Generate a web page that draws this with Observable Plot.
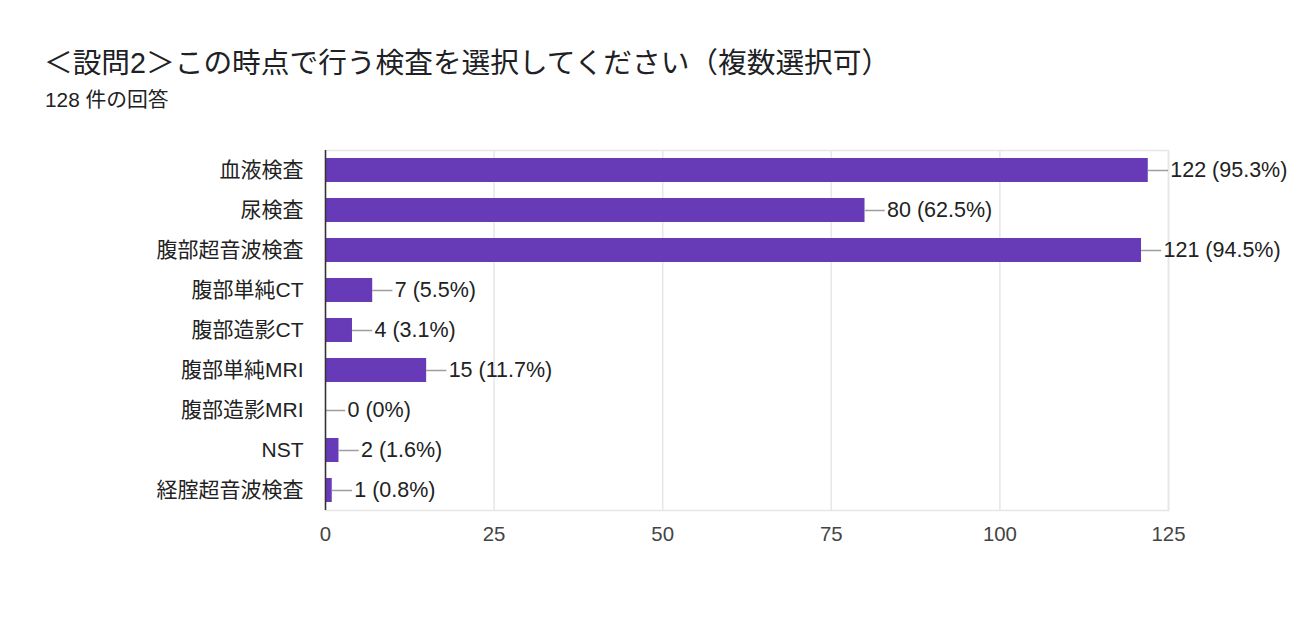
<!DOCTYPE html>
<html>
<head>
<meta charset="utf-8">
<script src="https://cdn.jsdelivr.net/npm/d3@7"></script>
<script src="https://cdn.jsdelivr.net/npm/@observablehq/plot@0.6"></script>
<style>
  html, body { margin: 0; padding: 0; background: #fff; }
  #wrap { position: relative; width: 1299px; height: 617px; overflow: hidden; font-family: "Liberation Sans", Arial, "Noto Sans CJK JP", sans-serif; }
  #title { position: absolute; left: 44px; top: 45px; font-size: 28.7px; line-height: 36px; color: #202124; white-space: nowrap; }
  #subtitle { position: absolute; left: 45px; top: 88px; font-size: 20.8px; line-height: 24px; color: #202124; white-space: nowrap; }
  #chart { position: absolute; left: 0; top: 0; }
</style>
</head>
<body>
<div id="wrap">
  <div id="chart"></div>
  <div id="title">＜設問2＞この時点で行う検査を選択してください（複数選択可）</div>
  <div id="subtitle">128 件の回答</div>
</div>
<script>
const categories = ["血液検査", "尿検査", "腹部超音波検査", "腹部単純CT", "腹部造影CT", "腹部単純MRI", "腹部造影MRI", "NST", "経腟超音波検査"];
const counts = [122, 80, 121, 7, 4, 15, 0, 2, 1];
const percents = ["95.3", "62.5", "94.5", "5.5", "3.1", "11.7", "0", "1.6", "0.8"];
const xTicks = [0, 25, 50, 75, 100, 125];

const data = categories.map((c, i) => ({category: c, value: counts[i], label: `${counts[i]} (${percents[i]}%)`}));

const chart = Plot.plot({
  width: 1299,
  height: 617,
  marginLeft: 325,
  marginRight: 131,
  marginTop: 150,
  marginBottom: 107,
  style: {fontFamily: '"Liberation Sans", Arial, "Noto Sans CJK JP", sans-serif', background: "transparent"},
  x: {domain: [0, 125], ticks: xTicks, label: null},
  y: {domain: categories, paddingInner: 0.4, paddingOuter: 0.2, label: null},
  marks: [
    Plot.gridX(xTicks, {stroke: "#e6e6e6", strokeOpacity: 1, strokeWidth: 1.5}),
    Plot.frame({stroke: "#e6e6e6", strokeWidth: 1.5}),
    Plot.barX(data, {x: "value", y: "category", fill: "#673ab7"}),
    Plot.ruleY(data, {y: "category", x1: "value", x2: d => d.value + 3, stroke: "#9e9e9e", strokeWidth: 1.5}),
    Plot.text(data, {x: "value", y: "category", text: "label", dx: 22, textAnchor: "start", fontSize: 21.5, fill: "#222"}),
    Plot.ruleX([0], {stroke: "#333", strokeWidth: 1.5}),
    Plot.axisX({ticks: xTicks, tickSize: 0, tickPadding: 16, fontSize: 20.4, color: "#444", label: null}),
    Plot.axisY({tickSize: 0, tickPadding: 22, fontSize: 21, color: "#222", label: null})
  ]
});
document.getElementById("chart").appendChild(chart);
</script>
</body>
</html>
